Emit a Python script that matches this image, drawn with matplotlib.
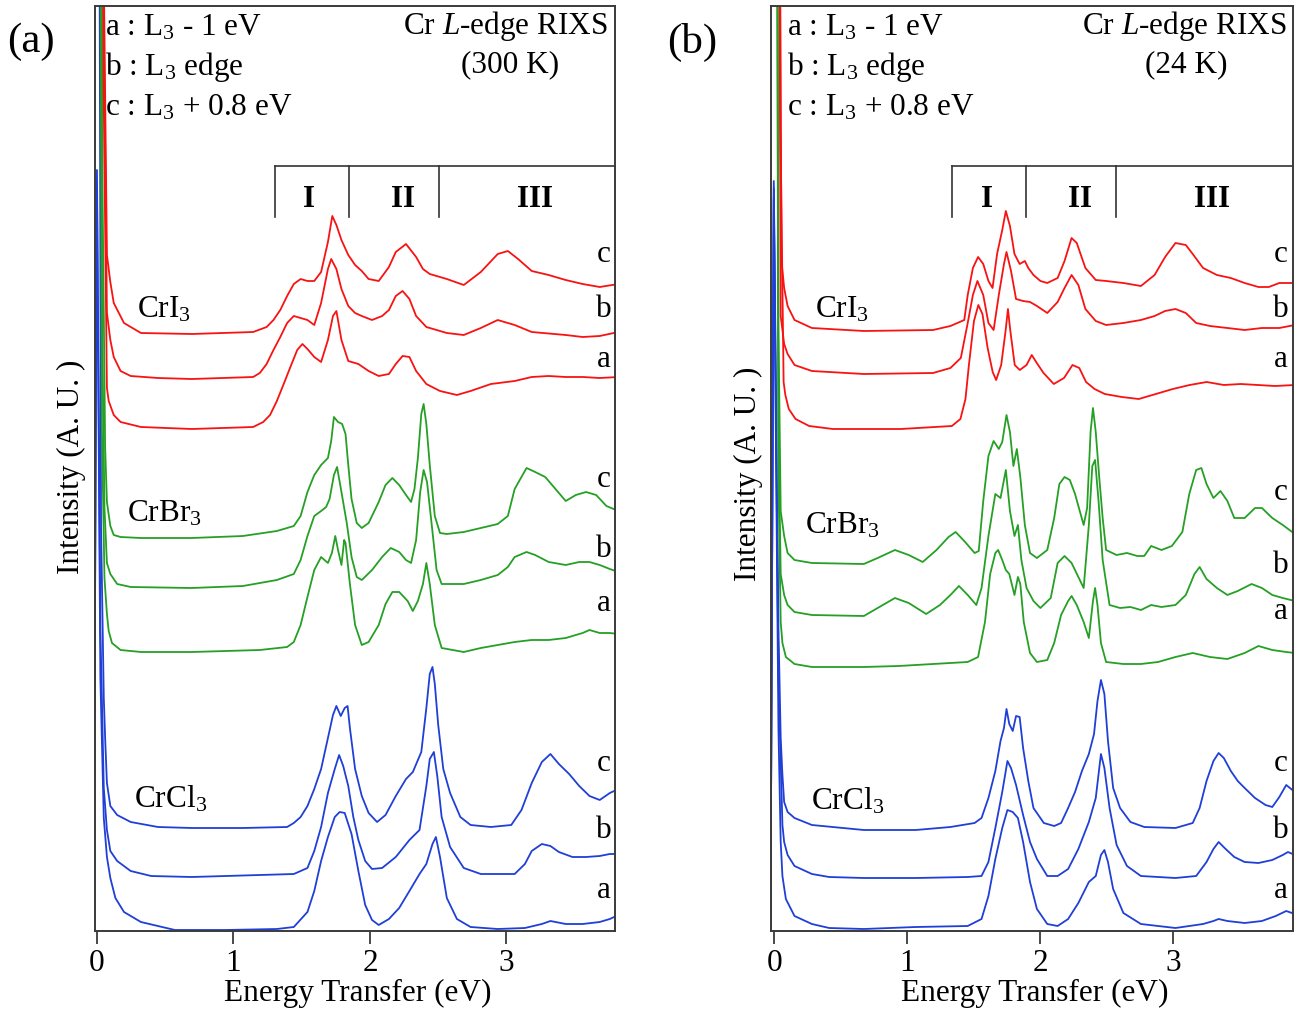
import matplotlib
matplotlib.use("Agg")
import matplotlib.pyplot as plt
import numpy as np

plt.rcParams['font.family'] = ['Liberation Serif', 'DejaVu Serif']
plt.rcParams['mathtext.fontset'] = 'custom'
plt.rcParams['mathtext.rm'] = 'Liberation Serif'
plt.rcParams['mathtext.it'] = 'Liberation Serif:italic'
plt.rcParams['mathtext.bf'] = 'Liberation Serif:bold'

# ---------------- data: (energy transfer eV, intensity A.U. incl. offset) ----------------
# Panel (a) 300 K
a_cri3_c = [(0.030, 2000), (0.052, 930), (0.073, 673), (0.098, 646), (0.123, 625), (0.198, 605), (0.322, 595), (0.695, 594), (1.144, 596), (1.243, 601), (1.293, 608), (1.343, 618), (1.393, 632), (1.442, 644), (1.492, 649), (1.542, 647), (1.592, 647), (1.642, 656), (1.692, 686), (1.724, 712), (1.754, 703), (1.791, 688), (1.841, 673), (1.891, 663), (1.940, 657), (1.990, 649), (2.064, 647), (2.139, 661), (2.189, 676), (2.264, 684), (2.338, 671), (2.388, 659), (2.438, 654), (2.563, 649), (2.687, 643), (2.812, 656), (2.936, 674), (3.010, 677), (3.085, 669), (3.185, 657), (3.309, 653), (3.434, 648), (3.558, 644), (3.683, 641), (3.820, 644)]
a_cri3_b = [(0.028, 2000), (0.050, 900), (0.073, 615), (0.098, 588), (0.123, 571), (0.173, 557), (0.247, 552), (0.447, 550), (0.695, 549), (1.144, 551), (1.193, 555), (1.243, 564), (1.293, 578), (1.343, 591), (1.393, 605), (1.442, 612), (1.492, 610), (1.542, 608), (1.592, 603), (1.642, 625), (1.692, 659), (1.716, 669), (1.754, 659), (1.791, 639), (1.841, 622), (1.891, 615), (1.940, 612), (2.015, 608), (2.089, 612), (2.139, 618), (2.189, 632), (2.239, 637), (2.289, 629), (2.338, 612), (2.413, 601), (2.563, 595), (2.687, 593), (2.812, 600), (2.936, 608), (2.985, 606), (3.060, 603), (3.185, 596), (3.434, 593), (3.558, 591), (3.683, 592), (3.820, 596)]
a_cri3_a = [(0.026, 2000), (0.048, 850), (0.073, 540), (0.086, 527), (0.123, 513), (0.173, 506), (0.322, 501), (0.695, 499), (1.144, 501), (1.218, 506), (1.268, 513), (1.318, 527), (1.368, 544), (1.417, 561), (1.467, 578), (1.505, 584), (1.542, 579), (1.592, 571), (1.642, 566), (1.692, 588), (1.729, 612), (1.754, 617), (1.791, 588), (1.841, 567), (1.915, 564), (1.990, 557), (2.064, 552), (2.139, 554), (2.189, 564), (2.239, 572), (2.289, 571), (2.338, 557), (2.413, 544), (2.513, 537), (2.637, 533), (2.737, 537), (2.886, 544), (3.060, 547), (3.185, 551), (3.309, 552), (3.434, 551), (3.558, 551), (3.683, 550), (3.820, 551)]

a_crbr3_c = [(0.015, 2000), (0.040, 750), (0.060, 480), (0.073, 426), (0.098, 402), (0.123, 393), (0.173, 391), (0.322, 390), (0.695, 390), (1.069, 392), (1.318, 397), (1.442, 402), (1.492, 412), (1.542, 436), (1.592, 453), (1.642, 463), (1.692, 470), (1.716, 487), (1.736, 511), (1.766, 506), (1.796, 504), (1.821, 494), (1.841, 463), (1.865, 429), (1.903, 405), (1.940, 400), (1.990, 405), (2.064, 426), (2.114, 443), (2.164, 450), (2.214, 443), (2.264, 433), (2.301, 426), (2.326, 439), (2.351, 470), (2.376, 514), (2.393, 524), (2.413, 504), (2.438, 463), (2.475, 412), (2.513, 395), (2.563, 394), (2.687, 396), (2.812, 400), (2.936, 404), (3.010, 412), (3.060, 439), (3.147, 460), (3.210, 456), (3.284, 451), (3.359, 439), (3.434, 427), (3.508, 433), (3.583, 436), (3.657, 433), (3.732, 422), (3.820, 417)]
a_crbr3_b = [(0.012, 2000), (0.038, 600), (0.055, 420), (0.073, 365), (0.098, 354), (0.148, 344), (0.247, 341), (0.695, 340), (1.069, 342), (1.318, 348), (1.442, 354), (1.492, 368), (1.542, 392), (1.592, 412), (1.642, 417), (1.679, 421), (1.704, 429), (1.736, 453), (1.759, 461), (1.791, 436), (1.830, 405), (1.865, 371), (1.903, 351), (1.940, 348), (2.015, 358), (2.089, 371), (2.152, 380), (2.214, 376), (2.264, 368), (2.301, 365), (2.338, 388), (2.368, 436), (2.393, 458), (2.418, 446), (2.451, 405), (2.488, 358), (2.525, 344), (2.687, 344), (2.812, 348), (2.936, 353), (3.010, 361), (3.060, 371), (3.147, 376), (3.210, 373), (3.309, 366), (3.434, 363), (3.533, 366), (3.608, 366), (3.683, 363), (3.757, 359), (3.820, 356)]
a_crbr3_a = [(0.010, 2000), (0.036, 500), (0.055, 350), (0.073, 314), (0.086, 297), (0.110, 285), (0.173, 278), (0.322, 276), (0.695, 276), (1.193, 278), (1.393, 281), (1.442, 286), (1.492, 303), (1.542, 331), (1.592, 358), (1.642, 371), (1.692, 365), (1.721, 375), (1.746, 392), (1.766, 378), (1.791, 363), (1.811, 388), (1.821, 385), (1.853, 344), (1.891, 303), (1.940, 283), (1.990, 286), (2.064, 303), (2.114, 324), (2.164, 336), (2.214, 336), (2.276, 327), (2.314, 317), (2.351, 327), (2.388, 344), (2.413, 365), (2.438, 344), (2.475, 303), (2.525, 280), (2.687, 276), (2.812, 280), (2.936, 283), (3.060, 286), (3.185, 288), (3.309, 288), (3.434, 290), (3.558, 295), (3.608, 298), (3.683, 295), (3.757, 295), (3.820, 294)]

a_crcl3_c = [(-0.010, 2000), (0.000, 2000), (0.030, 400), (0.050, 230), (0.061, 186), (0.073, 145), (0.098, 122), (0.148, 113), (0.247, 106), (0.447, 101), (0.695, 100), (1.069, 100), (1.393, 101), (1.442, 105), (1.492, 111), (1.542, 122), (1.592, 139), (1.642, 159), (1.692, 190), (1.729, 213), (1.754, 222), (1.786, 212), (1.815, 220), (1.836, 222), (1.853, 200), (1.891, 159), (1.940, 132), (1.990, 115), (2.052, 106), (2.114, 113), (2.189, 132), (2.264, 149), (2.314, 156), (2.376, 176), (2.413, 220), (2.438, 254), (2.458, 261), (2.475, 244), (2.500, 203), (2.537, 159), (2.587, 135), (2.662, 111), (2.737, 103), (2.886, 101), (3.035, 103), (3.110, 118), (3.185, 145), (3.259, 166), (3.322, 174), (3.384, 164), (3.459, 154), (3.533, 142), (3.608, 132), (3.683, 128), (3.757, 135), (3.820, 139)]
a_crcl3_b = [(-0.025, 0), (0.000, 758), (0.025, 300), (0.050, 140), (0.073, 98), (0.098, 77), (0.148, 67), (0.247, 57), (0.397, 52), (0.695, 51), (1.193, 53), (1.442, 54), (1.542, 60), (1.592, 77), (1.642, 101), (1.692, 135), (1.742, 159), (1.774, 173), (1.804, 162), (1.841, 142), (1.878, 111), (1.915, 88), (1.965, 67), (2.015, 59), (2.089, 60), (2.189, 71), (2.289, 88), (2.363, 98), (2.413, 142), (2.438, 169), (2.468, 176), (2.493, 152), (2.525, 111), (2.587, 81), (2.687, 60), (2.812, 54), (3.060, 54), (3.135, 64), (3.185, 77), (3.259, 84), (3.322, 82), (3.384, 76), (3.483, 71), (3.583, 71), (3.683, 72), (3.757, 74), (3.820, 74)]
a_crcl3_a = [(-0.025, 0), (0.000, 740), (0.025, 250), (0.050, 110), (0.073, 71), (0.098, 50), (0.135, 30), (0.198, 16), (0.322, 6), (0.571, -2), (0.944, -2), (1.318, -1), (1.442, 1), (1.542, 16), (1.592, 37), (1.642, 67), (1.692, 91), (1.742, 111), (1.778, 116), (1.815, 115), (1.865, 94), (1.915, 57), (1.965, 23), (2.015, 8), (2.064, 3), (2.139, 9), (2.214, 20), (2.289, 37), (2.363, 54), (2.413, 64), (2.458, 84), (2.483, 91), (2.513, 71), (2.563, 30), (2.637, 9), (2.737, 1), (2.936, -1), (3.135, 0), (3.259, 4), (3.322, 7), (3.434, 4), (3.558, 4), (3.683, 6), (3.757, 9), (3.820, 13)]

# Panel (b) 24 K
b_cri3_c = [(0.020, 2000), (0.045, 900), (0.053, 667), (0.073, 640), (0.099, 622), (0.151, 608), (0.282, 600), (0.673, 597), (1.194, 598), (1.325, 602), (1.429, 608), (1.455, 633), (1.494, 660), (1.533, 671), (1.572, 664), (1.611, 647), (1.642, 640), (1.676, 674), (1.715, 698), (1.742, 717), (1.773, 702), (1.807, 674), (1.846, 664), (1.885, 667), (1.911, 660), (1.950, 653), (2.002, 647), (2.054, 645), (2.132, 650), (2.184, 667), (2.237, 690), (2.276, 685), (2.341, 660), (2.419, 648), (2.497, 647), (2.627, 645), (2.759, 642), (2.862, 653), (2.941, 671), (3.019, 685), (3.097, 683), (3.149, 674), (3.227, 660), (3.331, 653), (3.436, 650), (3.540, 645), (3.644, 641), (3.722, 641), (3.801, 645), (3.918, 645)]
b_cri3_b = [(0.018, 2000), (0.040, 900), (0.047, 612), (0.073, 584), (0.099, 574), (0.151, 563), (0.282, 557), (0.673, 554), (1.194, 555), (1.325, 560), (1.403, 570), (1.455, 605), (1.494, 633), (1.528, 647), (1.572, 633), (1.611, 605), (1.650, 598), (1.689, 633), (1.728, 664), (1.747, 676), (1.781, 657), (1.819, 629), (1.872, 627), (1.924, 626), (1.976, 622), (2.054, 615), (2.132, 626), (2.184, 640), (2.237, 653), (2.288, 643), (2.341, 619), (2.419, 607), (2.497, 603), (2.627, 605), (2.759, 608), (2.862, 612), (2.941, 617), (3.019, 619), (3.097, 615), (3.175, 605), (3.279, 602), (3.410, 600), (3.540, 598), (3.670, 600), (3.801, 600), (3.918, 603)]
b_cri3_a = [(0.018, 2000), (0.045, 800), (0.069, 546), (0.082, 533), (0.108, 519), (0.159, 509), (0.261, 502), (0.440, 499), (0.952, 499), (1.336, 502), (1.400, 509), (1.438, 529), (1.464, 563), (1.502, 607), (1.535, 623), (1.566, 614), (1.605, 580), (1.643, 556), (1.669, 548), (1.707, 563), (1.740, 597), (1.758, 619), (1.776, 597), (1.809, 563), (1.847, 558), (1.898, 563), (1.937, 573), (1.975, 565), (2.026, 555), (2.103, 544), (2.180, 550), (2.244, 563), (2.295, 560), (2.346, 546), (2.410, 539), (2.487, 534), (2.615, 531), (2.743, 529), (2.871, 534), (2.999, 539), (3.126, 543), (3.254, 546), (3.383, 543), (3.511, 544), (3.639, 543), (3.767, 542), (3.920, 543)]

b_crbr3_c = [(0.005, 2000), (0.030, 600), (0.047, 417), (0.073, 392), (0.099, 375), (0.151, 368), (0.282, 365), (0.673, 364), (0.777, 370), (0.907, 378), (1.011, 373), (1.116, 366), (1.220, 378), (1.311, 391), (1.364, 396), (1.429, 387), (1.507, 375), (1.538, 377), (1.572, 427), (1.611, 472), (1.650, 487), (1.689, 479), (1.715, 486), (1.747, 513), (1.773, 496), (1.799, 462), (1.825, 479), (1.851, 451), (1.885, 403), (1.924, 375), (1.976, 370), (2.054, 378), (2.106, 410), (2.145, 444), (2.184, 451), (2.224, 448), (2.263, 434), (2.328, 403), (2.354, 420), (2.380, 496), (2.398, 520), (2.419, 496), (2.445, 451), (2.471, 410), (2.497, 378), (2.575, 373), (2.654, 375), (2.732, 372), (2.784, 372), (2.836, 382), (2.914, 378), (2.992, 382), (3.071, 396), (3.123, 434), (3.175, 458), (3.214, 460), (3.253, 444), (3.305, 430), (3.358, 437), (3.410, 427), (3.462, 410), (3.540, 410), (3.618, 420), (3.670, 420), (3.748, 410), (3.827, 403), (3.918, 394)]
b_crbr3_b = [(0.005, 2000), (0.030, 500), (0.047, 354), (0.073, 333), (0.099, 323), (0.151, 316), (0.282, 313), (0.673, 312), (0.777, 320), (0.907, 330), (1.011, 325), (1.142, 314), (1.246, 323), (1.325, 333), (1.389, 342), (1.455, 333), (1.520, 323), (1.559, 340), (1.611, 392), (1.663, 434), (1.702, 430), (1.742, 458), (1.773, 417), (1.807, 392), (1.833, 403), (1.859, 368), (1.898, 340), (1.950, 327), (2.002, 320), (2.080, 330), (2.132, 365), (2.184, 372), (2.237, 365), (2.288, 351), (2.328, 340), (2.367, 403), (2.393, 462), (2.414, 468), (2.440, 427), (2.471, 368), (2.523, 323), (2.602, 320), (2.680, 321), (2.759, 318), (2.836, 323), (2.914, 321), (3.019, 323), (3.097, 333), (3.162, 354), (3.201, 361), (3.253, 349), (3.331, 340), (3.410, 333), (3.488, 337), (3.592, 344), (3.670, 340), (3.748, 333), (3.827, 330), (3.918, 327)]
b_crbr3_a = [(0.005, 2000), (0.030, 450), (0.047, 306), (0.060, 285), (0.086, 271), (0.151, 264), (0.282, 261), (0.673, 261), (0.934, 262), (1.194, 264), (1.455, 266), (1.533, 271), (1.585, 306), (1.624, 354), (1.663, 375), (1.684, 378), (1.715, 368), (1.742, 358), (1.768, 354), (1.807, 333), (1.833, 351), (1.851, 344), (1.877, 306), (1.924, 275), (1.976, 266), (2.054, 268), (2.106, 285), (2.158, 313), (2.211, 327), (2.237, 332), (2.276, 323), (2.328, 306), (2.367, 290), (2.398, 327), (2.414, 340), (2.432, 323), (2.458, 285), (2.497, 266), (2.627, 264), (2.759, 264), (2.888, 266), (3.019, 271), (3.149, 275), (3.279, 271), (3.410, 269), (3.540, 275), (3.644, 282), (3.748, 278), (3.853, 276), (3.918, 275)]

b_crcl3_c = [(-0.030, 0), (-0.005, 747), (0.030, 300), (0.047, 190), (0.060, 153), (0.073, 126), (0.099, 116), (0.151, 110), (0.282, 103), (0.673, 98), (1.064, 98), (1.325, 101), (1.507, 105), (1.559, 110), (1.611, 130), (1.663, 157), (1.702, 187), (1.728, 200), (1.747, 219), (1.768, 204), (1.794, 197), (1.819, 212), (1.846, 211), (1.872, 180), (1.911, 147), (1.950, 120), (2.028, 105), (2.106, 102), (2.158, 105), (2.211, 120), (2.263, 136), (2.315, 157), (2.367, 174), (2.406, 194), (2.432, 227), (2.458, 248), (2.484, 234), (2.511, 187), (2.550, 140), (2.602, 120), (2.680, 106), (2.784, 101), (3.019, 100), (3.149, 105), (3.201, 120), (3.253, 147), (3.305, 167), (3.344, 175), (3.383, 170), (3.436, 157), (3.488, 147), (3.540, 140), (3.618, 130), (3.697, 123), (3.748, 121), (3.801, 131), (3.853, 143), (3.918, 136)]
b_crcl3_b = [(-0.030, 0), (-0.005, 740), (0.030, 250), (0.060, 103), (0.073, 86), (0.099, 73), (0.151, 62), (0.282, 54), (0.412, 51), (0.673, 50), (1.064, 50), (1.455, 51), (1.559, 52), (1.611, 66), (1.663, 100), (1.715, 136), (1.754, 167), (1.781, 160), (1.819, 143), (1.872, 113), (1.924, 86), (1.976, 69), (2.054, 52), (2.132, 52), (2.211, 59), (2.288, 79), (2.367, 106), (2.419, 130), (2.458, 174), (2.484, 160), (2.523, 120), (2.576, 83), (2.654, 62), (2.759, 52), (3.019, 50), (3.175, 52), (3.253, 66), (3.305, 79), (3.344, 86), (3.397, 79), (3.462, 71), (3.540, 66), (3.644, 65), (3.748, 68), (3.827, 73), (3.866, 76), (3.918, 73)]
b_crcl3_a = [(-0.030, 0), (-0.005, 730), (0.030, 200), (0.047, 86), (0.060, 52), (0.086, 29), (0.151, 12), (0.282, 4), (0.412, 0), (0.673, -1), (1.064, 1), (1.455, 2), (1.559, 9), (1.611, 32), (1.663, 69), (1.715, 100), (1.754, 118), (1.794, 116), (1.833, 110), (1.872, 86), (1.924, 46), (1.976, 19), (2.054, 4), (2.132, 2), (2.211, 9), (2.288, 25), (2.367, 46), (2.419, 52), (2.458, 73), (2.484, 78), (2.511, 66), (2.550, 39), (2.627, 15), (2.759, 4), (3.019, 0), (3.227, 4), (3.305, 7), (3.344, 9), (3.410, 7), (3.540, 5), (3.670, 7), (3.774, 12), (3.853, 17), (3.918, 14)]

compounds = ['CrCl$_\\mathrm{3}$', 'CrBr$_\\mathrm{3}$', 'CrI$_\\mathrm{3}$']
excitations = ['a', 'b', 'c']
legend_lines = ['a : L$_\\mathrm{3}$ - 1 eV', 'b : L$_\\mathrm{3}$ edge', 'c : L$_\\mathrm{3}$ + 0.8 eV']
temperatures = ['(300 K)', '(24 K)']
region_labels = ['I', 'II', 'III']
xtick_values = [0, 1, 2, 3]
xtick_labels = ['0', '1', '2', '3']

colors = {'CrCl': '#1f3fd6', 'CrBr': '#25a025', 'CrI': '#f81212'}

W, H = 1305, 1011
fig = plt.figure(figsize=(W / 100, H / 100), dpi=100)
FS = 22.5


def add_axes_px(l, r, t, b):
    return fig.add_axes([l / W, 1 - b / H, (r - l) / W, (b - t) / H])


def ftext(x, y, s, **kw):
    fig.text(x / W, 1 - y / H, s, fontsize=kw.pop('fontsize', FS), **kw)


def py2y(py):
    return 928 - py


panels = [
    dict(px=(94.5, 615), xlim=(-0.018, 3.795),
         spectra=[(a_crcl3_a, a_crcl3_b, a_crcl3_c), (a_crbr3_a, a_crbr3_b, a_crbr3_c), (a_cri3_a, a_cri3_b, a_cri3_c)],
         brackets=(1.305, 1.845, 2.505), rl=(1.553, 2.244, 3.21),
         letter_x=604, letter_base=[(898, 838, 771), (611, 557, 487), (367, 317, 262)],
         comp_pos=[(134, 808), (127, 521), (137, 318)],
         panel_lab=('(a)', 7), legend_x=105, title_r=608, temp_c=510,
         ylab=(71, 467), xlab=(358, 993)),
    dict(px=(771, 1293), xlim=(-0.026, 3.904),
         spectra=[(b_crcl3_a, b_crcl3_b, b_crcl3_c), (b_crbr3_a, b_crbr3_b, b_crbr3_c), (b_cri3_a, b_cri3_b, b_cri3_c)],
         brackets=(1.337, 1.892, 2.570), rl=(1.598, 2.302, 3.292),
         letter_x=1281, letter_base=[(898, 838, 771), (619, 573, 500), (367, 317, 262)],
         comp_pos=[(811, 809), (805, 533), (815, 318)],
         panel_lab=('(b)', 667), legend_x=787, title_r=1287, temp_c=1186,
         ylab=(748, 474), xlab=(1035, 993)),
]

comp_keys = ['CrCl', 'CrBr', 'CrI']

for i, p in enumerate(panels):
    ax = add_axes_px(p['px'][0], p['px'][1], 6, 931)
    ax.set_xlim(*p['xlim'])
    ax.set_ylim(-3, 922)
    for ci, trio in enumerate(p['spectra']):
        for spec in trio:
            arr = np.array(spec, dtype=float)
            ax.plot(arr[:, 0], arr[:, 1], color=colors[comp_keys[ci]], lw=1.3,
                    solid_joinstyle='round')
    # region brackets
    b1, b2, b3 = p['brackets']
    ytop, ybot = py2y(166), py2y(217)
    ax.plot([b1, p['xlim'][1] + 0.1], [ytop, ytop], color='#333333', lw=1.2, clip_on=True)
    for bx in (b1, b2, b3):
        ax.plot([bx, bx], [ytop, ybot], color='#333333', lw=1.2)
    for rx, lab in zip(p['rl'], region_labels):
        ax.text(rx, py2y(207), lab, fontsize=FS, fontweight='bold', ha='center', va='baseline')

    for sp in ax.spines.values():
        sp.set_linewidth(1.4)
        sp.set_color('#3a3a3a')
    ax.set_yticks([])
    ax.set_xticks(xtick_values)
    ax.set_xticklabels(xtick_labels)
    ax.tick_params(axis='x', direction='out', length=9, width=1.3, labelsize=FS, pad=4,
                   color='#3a3a3a')

    # letters a/b/c at right
    for ci in range(3):
        for ei, lab in enumerate(excitations):
            ftext(p['letter_x'], p['letter_base'][ci][ei], lab, ha='center', va='baseline')
        cx, cy = p['comp_pos'][ci]
        ftext(cx, cy, compounds[ci], ha='left', va='baseline')

    # legend text
    for k, line in enumerate(legend_lines):
        ftext(p['legend_x'], [35, 75, 116][k], line, ha='left', va='baseline')
    ftext(p['title_r'], 34, 'Cr $\\mathit{L}$-edge RIXS', ha='right', va='baseline')
    ftext(p['temp_c'], 72, temperatures[i], ha='center', va='baseline')
    ftext(p['panel_lab'][1], 42, p['panel_lab'][0], ha='left', va='center', fontsize=31)
    ftext(p['ylab'][0], p['ylab'][1], 'Intensity (A. U. )', rotation=90, ha='center', va='center')
    ftext(p['xlab'][0], p['xlab'][1], 'Energy Transfer (eV)', ha='center', va='center')

fig.savefig('out.png', dpi=100)
